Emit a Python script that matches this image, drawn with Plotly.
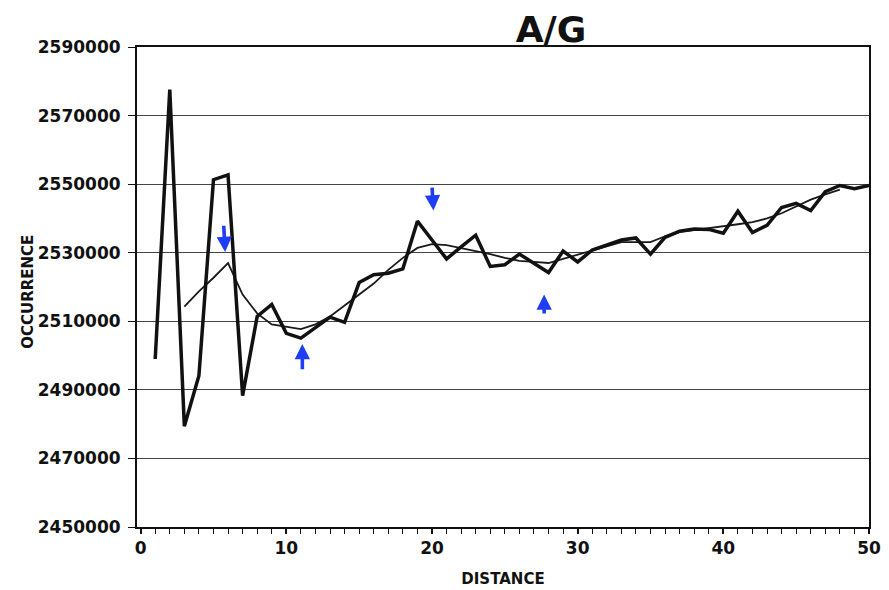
import plotly.graph_objects as go

distance = list(range(1, 51))
occurrence = [2499000, 2577600, 2479400, 2494100, 2551300, 2552700, 2488300, 2511400, 2514900, 2506500,
              2505100, 2508300, 2511200, 2509700, 2521300, 2523600, 2524000, 2525300, 2539200, 2533700,
              2528200, 2531700, 2535100, 2526000, 2526500, 2529600, 2527000, 2524200, 2530500, 2527300,
              2530800, 2532200, 2533700, 2534300, 2529600, 2534500, 2536300, 2536900, 2536800, 2535700,
              2542100, 2535900, 2538000, 2543200, 2544400, 2542300, 2547800, 2549600, 2548700, 2549600]

avg_distance = list(range(3, 49))
avg_occurrence = [2514300, 2518700, 2522700, 2527000, 2517800, 2512300, 2509100, 2508300, 2507700, 2509100,
                  2511400, 2514600, 2517800, 2521000, 2525000, 2528500, 2531400, 2532500, 2532200, 2531400,
                  2530500, 2529600, 2528500, 2527600, 2527300, 2527000, 2528200, 2529400, 2530800, 2531900,
                  2533100, 2533100, 2533100, 2534800, 2536000, 2536600, 2537100, 2537700, 2538300, 2538900,
                  2540000, 2541500, 2543500, 2545500, 2547000, 2548400]

# blue arrow markers: (tip x, tip y, tail x, tail y)
arrow_tip_x = [5.8, 11.1, 20.1, 27.7]
arrow_tip_y = [2530200, 2503400, 2542300, 2517800]
arrow_tail_x = [5.7, 11.1, 20.0, 27.7]
arrow_tail_y = [2538300, 2495600, 2549400, 2511800]

y_ticks = list(range(2450000, 2590001, 20000))
x_ticks = [0, 10, 20, 30, 40, 50]

FONT = "DejaVu Sans"
INK = "#111111"

# page body has an 8px default margin: offset layout to compensate
OFF = 8
L, R, T, B = 137 - OFF, 20, 47 - OFF, 63
W, H = 889 - OFF, 590 - OFF
PW = W - L - R

fig = go.Figure()
fig.add_trace(go.Scatter(x=avg_distance, y=avg_occurrence, mode="lines",
                         line=dict(color="#1a1a1a", width=1.8), showlegend=False))
fig.add_trace(go.Scatter(x=distance, y=occurrence, mode="lines",
                         line=dict(color=INK, width=3.5), showlegend=False))

for tx, ty, sx, sy in zip(arrow_tip_x, arrow_tip_y, arrow_tail_x, arrow_tail_y):
    fig.add_annotation(x=tx, y=ty, ax=sx, ay=sy, xref="x", yref="y", axref="x", ayref="y",
                       showarrow=True, arrowhead=2, arrowsize=0.85, arrowwidth=3.6,
                       arrowcolor="#1f3df5", text="")

fig.add_annotation(text="OCCURRENCE", x=(28 - 137) / PW, y=0.49, xref="paper", yref="paper",
                   xanchor="center", yanchor="middle",
                   showarrow=False, textangle=-90,
                   font=dict(family=FONT, size=15, color=INK, weight="bold"))
fig.update_layout(
    width=W, height=H,
    margin=dict(l=L, r=R, t=T, b=B, autoexpand=False),
    paper_bgcolor="white", plot_bgcolor="white",
    title=dict(text="A/G", x=(551 - 137) / PW, xanchor="center", y=1 - (29 - OFF) / H, yanchor="middle",
               xref="paper", yref="container",
               font=dict(family=FONT, size=36, color=INK, weight="bold")),
    xaxis=dict(range=[-0.25, 50], tickvals=x_ticks, ticks="outside", ticklen=5, tickwidth=1.5,
               tickcolor=INK, showgrid=False, zeroline=False,
               showline=True, linecolor=INK, linewidth=2, mirror=True,
               minor=dict(dtick=1, tick0=0, ticks="outside", ticklen=5, tickwidth=1, tickcolor=INK),
               tickfont=dict(family=FONT, size=17, color=INK, weight="bold"),
               title=dict(text="DISTANCE", standoff=16,
                          font=dict(family=FONT, size=15, color=INK, weight="bold"))),
    yaxis=dict(range=[2450000, 2590000], tickvals=y_ticks, ticks="outside", ticklen=7, tickwidth=1,
               tickcolor=INK, showgrid=True, gridcolor="#444444", gridwidth=1, zeroline=False,
               showline=True, linecolor=INK, linewidth=2, mirror=True,
               tickfont=dict(family=FONT, size=17, color=INK, weight="bold"), tickformat="d",
               ticklabelstandoff=4),
)

fig.write_html("out.html")
